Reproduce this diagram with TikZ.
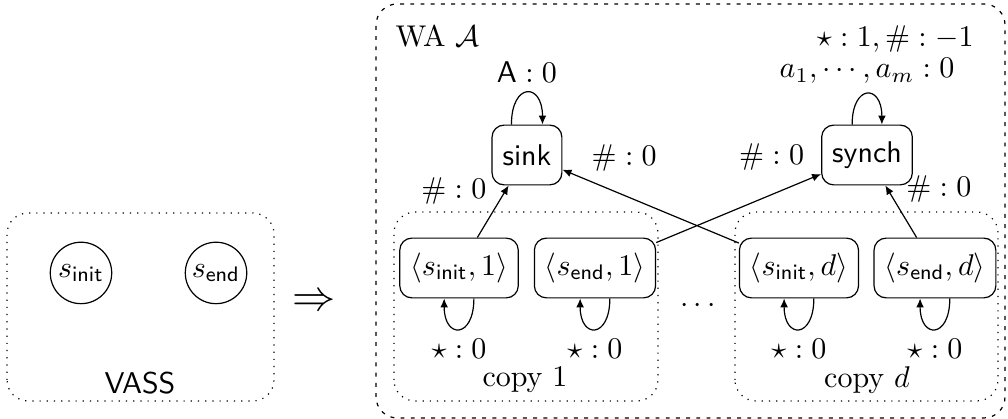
\documentclass[tikz,border=0pt]{standalone}
\usepackage{tikz}
\usetikzlibrary{arrows.meta, positioning}
\tikzset{
  etat/.style={circle, draw, minimum size=7.2mm, inner sep=0.5pt},
  bloc/.style={rectangle, rounded corners=4pt, draw, minimum height=7mm,
    inner sep=3.5pt},
  cadre/.style={draw, dotted, rounded corners=7pt},
  cadrewa/.style={draw, dash pattern=on 1.3pt off 2.1pt, rounded corners=7pt},
  fleche/.style={-{Latex[length=3pt, width=2.6pt]}},
  boucle/.style={fleche, looseness=3.5},
  etiquette/.style={inner sep=3.33pt}
}

\begin{document}
\begin{tikzpicture}
  \useasboundingbox (0,0) rectangle (11.81,4.909);

  % VASS de départ
  \draw[cadre] (0.082,0.211) rectangle (3.210,2.413);
  \node[etat] (vinit) at (0.949,1.711) {$s_{\mathsf{init}}$};
  \node[etat] (vend) at (2.531,1.711) {$s_{\mathsf{end}}$};
  \node (vass) at (1.640,0.422) {\sffamily VASS};
  \node (impl) at (3.679,1.359) {\Large$\Rightarrow$};

  % automate pondéré
  \draw[cadrewa] (4.406,0.012) rectangle (11.775,4.862);
  \node[anchor=west] (wa) at (4.51,4.49) {WA $\mathcal{A}$};
  \node[bloc] (sink) at (6.174,3.093) {\sffamily sink};
  \node[bloc] (synch) at (10.158,3.093) {\sffamily synch};

  % copies du VASS
  \draw[cadre] (4.616,0.211) rectangle (7.709,2.425);
  \draw[cadre] (8.611,0.211) rectangle (11.693,2.425);
  \node[bloc] (iun) at (5.378,1.769) {$\langle s_{\mathsf{init}}, 1\rangle$};
  \node[bloc] (eun) at (6.971,1.769) {$\langle s_{\mathsf{end}}, 1\rangle$};
  \node[bloc] (id) at (9.361,1.769) {$\langle s_{\mathsf{init}}, d\rangle$};
  \node[bloc] (ed) at (10.954,1.769) {$\langle s_{\mathsf{end}}, d\rangle$};
  \node (copieun) at (6.151,0.457) {copy $1$};
  \node (copied) at (10.158,0.457) {copy $d$};
  \node (points) at (8.178,1.324) {$\cdots$};

  % boucles
  \draw[boucle] (sink.117) to[out=90, in=90]
    node[etiquette, above] {$\mathsf{A}:0$} (sink.63);
  \draw[boucle] (synch.116) to[out=90, in=90]
    node[etiquette, above] {$a_1,\cdots,a_m:0$}
    node[etiquette, above=3.6mm, xshift=3.3mm] {$\star:1,\#:-1$} (synch.64);
  \foreach \q in {iun, eun, id, ed}
    \draw[boucle] (\q.-64) to[out=-90, in=-90]
      node[etiquette, below] {$\star:0$} (\q.-116);

  % transitions
  \draw[fleche] (iun) -- node[etiquette, pos=.9, left=1mm] {$\#:0$} (sink);
  \draw[fleche] (id) -- node[etiquette, pos=.65, above=1.6mm] {$\#:0$} (sink);
  \draw[fleche] (eun) -- node[etiquette, pos=.7, above=1.6mm] {$\#:0$} (synch);
  \draw[fleche] (ed) -- node[etiquette, pos=.94, right=1mm] {$\#:0$} (synch);
\end{tikzpicture}
\end{document}
